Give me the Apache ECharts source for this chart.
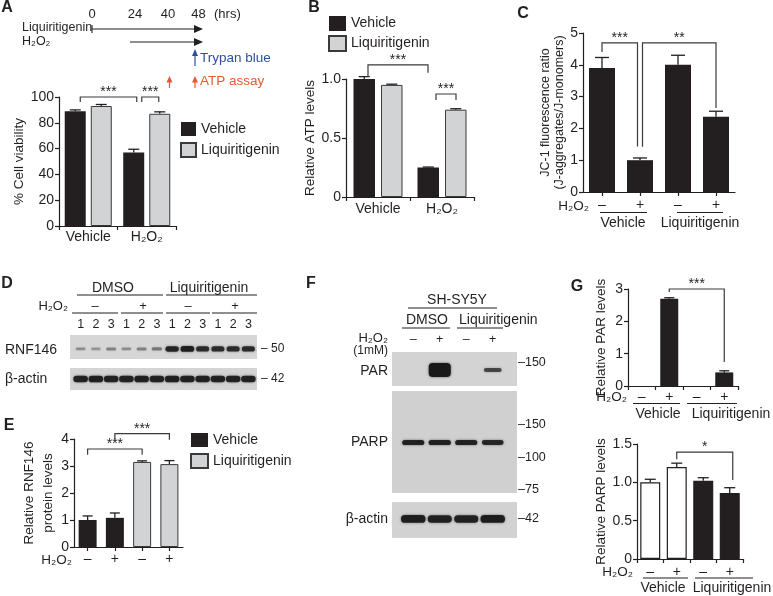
<!DOCTYPE html>
<html><head><meta charset="utf-8">
<script src="https://cdn.jsdelivr.net/npm/echarts@6/dist/echarts.min.js"></script>
<style>html,body{margin:0;padding:0;background:#fff}#c{width:773px;height:596px}</style>
</head><body><div id="c"></div><script>
// ---------------- DATA ----------------
const groupCats = ['Vehicle', 'H₂O₂'];
const aVehicle = [89, 57];       const aVehicleErr = [1.0, 2.5];
const aLiq = [93, 87];           const aLiqErr = [1.2, 1.5];
const bVehicle = [1.0, 0.25];    const bVehicleErr = [0.02, 0.004];
const bLiq = [0.95, 0.74];       const bLiqErr = [0.006, 0.008];
const h2o2Signs = ['–', '+', '–', '+'];
const cValues = [3.9, 1.0, 4.0, 2.37];  const cErr = [0.33, 0.07, 0.3, 0.17];
const eVehicle = [1.0, 1.08];    const eVehicleErr = [0.15, 0.18];
const eLiq = [3.15, 3.07];       const eLiqErr = [0.04, 0.13];
const gPar = [0, 2.7, 0, 0.42];  const gParErr = [0, 0.03, 0, 0.05];
const gParp = [1.0, 1.2, 1.02, 0.86]; const gParpErr = [0.04, 0.05, 0.04, 0.07];
const timeTicks = ['0', '24', '40', '48'];
const dLanes = ['1','2','3','1','2','3','1','2','3','1','2','3'];
const dRnf146 = [0.3, 0.25, 0.35, 0.3, 0.35, 0.4, 0.9, 0.95, 0.85, 0.85, 0.85, 0.85];
const dActin = [0.9, 0.92, 0.9, 0.9, 0.92, 0.9, 0.92, 0.9, 0.9, 0.9, 0.9, 0.9];
const fPar = [0, 1, 0, 0.3];
const fParp = [0.9, 0.92, 0.9, 0.85];
const fActin = [0.95, 0.9, 0.9, 0.95];
const dMarkers = ['– 50', '– 42'];
const fMarkers = ['–150', '–150', '–100', '–75', '–42'];

// ---------------- STYLE ----------------
const FONT = "'Liberation Sans', Arial, Helvetica, sans-serif";
const INK = '#231f20';
const GRAY = '#d1d3d4';
const BLUE = '#2e4e9c';
const ORANGE = '#e8592c';

const grids = [], xAxes = [], yAxes = [], series = [];
function addGrid(left, top, width, height) {
  grids.push({left, top, width, height, outerBoundsMode: 'none', containLabel: false});
  return grids.length - 1;
}
function vAxis(gi, min, max, interval, name, nameGap, fmt, nameExtra) {
  yAxes.push({type: 'value', gridIndex: gi, min, max, interval,
    name, nameLocation: 'middle', nameGap, nameRotate: 90,
    nameTextStyle: Object.assign({fontSize: 13.5, color: INK, fontFamily: FONT}, nameExtra || {}),
    axisLine: {show: true, lineStyle: {color: INK, width: 1.2}},
    axisTick: {show: true, length: 4, lineStyle: {color: INK, width: 1.2}},
    axisLabel: {fontSize: 14, color: INK, margin: 5, fontFamily: FONT, formatter: fmt},
    splitLine: {show: false}});
}
function cAxis(gi, data, alignWithLabel, margin) {
  xAxes.push({type: 'category', gridIndex: gi, data,
    axisLine: {show: true, lineStyle: {color: INK, width: 1.2}},
    axisTick: {show: true, length: 4, alignWithLabel, lineStyle: {color: INK, width: 1.2}},
    axisLabel: {fontSize: 14, color: INK, margin, interval: 0, fontFamily: FONT}});
}
function blotAxes(gi, n, labels, margin) {
  xAxes.push({type: 'category', gridIndex: gi, data: labels || Array.from({length: n}, (_, i) => String(i)),
    position: 'top', show: !!labels, axisLine: {show: false}, axisTick: {show: false},
    axisLabel: {fontSize: 12.5, color: INK, margin: margin || 4, interval: 0, fontFamily: FONT}});
  yAxes.push({type: 'value', gridIndex: gi, min: 0, max: 1, show: false});
}
const solid = {color: INK};
const grayStyle = {color: GRAY, borderColor: '#3a3a3a', borderWidth: 1};
function bar(gi, name, data, width, style, extra) {
  series.push(Object.assign({type: 'bar', name, xAxisIndex: gi, yAxisIndex: gi, data,
    barWidth: width, itemStyle: style, silent: true}, extra || {}));
}
function errBars(gi, vals, errs, dx, capW, off) {
  series.push({type: 'custom', xAxisIndex: gi, yAxisIndex: gi, z: 5, silent: true,
    data: vals.map((v, i) => [i + (off || 0), v, errs[i]]), encode: {x: 0, y: 1},
    renderItem(params, api) {
      const i = api.value(0), v = api.value(1), e = api.value(2);
      if (!(e > 0)) return;
      const p0 = api.coord([i, v]), p1 = api.coord([i, v + e]);
      const x = p0[0] + dx;
      const st = {stroke: INK, lineWidth: 1.3};
      return {type: 'group', children: [
        {type: 'line', shape: {x1: x, y1: p0[1], x2: x, y2: p1[1]}, style: st},
        {type: 'line', shape: {x1: x - capW / 2, y1: p1[1], x2: x + capW / 2, y2: p1[1]}, style: st}]};
    }});
}
function bands(gi, vals, o) {
  series.push({type: 'custom', xAxisIndex: gi, yAxisIndex: gi, z: 3, silent: true,
    data: vals.map((v, i) => [i, v]), encode: {x: 0, y: 1},
    renderItem(params, api) {
      const i = api.value(0), v = api.value(1);
      if (!(v > 0)) return;
      const cs = params.coordSys;
      const x = api.coord([i, 0])[0];
      const y = cs.y + cs.height * o.pos;
      const w = o.wMin + (o.wMax - o.wMin) * v, h = o.hMin + (o.hMax - o.hMin) * v;
      const a = o.aMin + (o.aMax - o.aMin) * v;
      return {type: 'rect', shape: {x: x - w / 2, y: y - h / 2, width: w, height: h, r: Math.min(h / 2, 4)},
        style: {fill: 'rgba(22,22,22,' + a.toFixed(2) + ')', shadowBlur: 2.5, shadowColor: 'rgba(22,22,22,' + (a * 0.7).toFixed(2) + ')'}};
    }});
}
const f1 = v => v === 0 ? '0' : v.toFixed(1);

// ---- A ----
const gA = addGrid(59, 97, 117, 129);
cAxis(gA, groupCats, false, 4);
vAxis(gA, 0, 100, 20, '% Cell viability', 28, null);
bar(gA, 'Vehicle', aVehicle, 21, solid, {barGap: '24%'});
bar(gA, 'Liquiritigenin', aLiq, 21, grayStyle, {barGap: '24%'});
errBars(gA, aVehicle, aVehicleErr, -13, 11);
errBars(gA, aLiq, aLiqErr, 13, 11);
// ---- B ----
const gB = addGrid(346, 79, 128, 118);
cAxis(gB, groupCats, false, 5);
vAxis(gB, 0, 1.0, 0.5, 'Relative ATP levels', 21, f1);
bar(gB, 'Vehicle', bVehicle, 21.5, solid, {barGap: '28%'});
bar(gB, 'Liquiritigenin', bLiq, 21.5, grayStyle, {barGap: '28%'});
errBars(gB, bVehicle, bVehicleErr, -13.75, 11);
errBars(gB, bLiq, bLiqErr, 13.75, 11);
// ---- C ----
const gC = addGrid(583, 33, 152, 159);
cAxis(gC, h2o2Signs, true, 6);
vAxis(gC, 0, 5, 1, 'JC-1 fluorescence ratio\n(J-aggregates/J-monomers)', 17, null, {fontSize: 12.5, lineHeight: 13.5});
bar(gC, 'JC-1', cValues, 26, solid);
errBars(gC, cValues, cErr, 0, 14);
// ---- E ----
const gE = addGrid(74, 439, 109, 108);
cAxis(gE, h2o2Signs, true, 5);
vAxis(gE, 0, 4, 1, 'Relative RNF146\nprotein levels', 9, null, {lineHeight: 18.5});
bar(gE, 'Vehicle', eVehicle.concat(['-', '-']), 18, solid, {barGap: '-100%'});
bar(gE, 'Liquiritigenin', ['-', '-'].concat(eLiq), 18, grayStyle, {barGap: '-100%'});
errBars(gE, eVehicle, eVehicleErr, 0, 10, 0);
errBars(gE, eLiq, eLiqErr, 0, 10, 2);
// ---- G top ----
const gG1 = addGrid(628, 289, 110, 97);
cAxis(gG1, h2o2Signs, false, 4);
vAxis(gG1, 0, 3, 1, 'Relative PAR levels', 20, null);
bar(gG1, 'PAR', gPar, 18, solid);
errBars(gG1, gPar, gParErr, 0, 10);
// ---- G bottom ----
const gG2 = addGrid(637, 444, 106, 115);
cAxis(gG2, h2o2Signs, false, 6);
vAxis(gG2, 0, 1.5, 0.5, 'Relative PARP levels', 27, f1);
bar(gG2, 'PARP', gParp, 20, {color: p => p.dataIndex < 2 ? '#ffffff' : INK, borderColor: INK, borderWidth: 1.2});
errBars(gG2, gParp, gParpErr, 0, 11);
// ---- D blots ----
const gD1 = addGrid(73, 335, 183, 24);
blotAxes(gD1, 12, dLanes, 4);
bands(gD1, dRnf146, {pos: 0.58, wMin: 8, wMax: 14, hMin: 1.5, hMax: 6, aMin: 0.1, aMax: 0.95});
const gD2 = addGrid(73, 368, 183, 22);
blotAxes(gD2, 12);
bands(gD2, dActin, {pos: 0.5, wMin: 10, wMax: 15, hMin: 3, hMax: 7, aMin: 0.3, aMax: 0.95});
// ---- F blots ----
const gF1 = addGrid(400, 352, 106, 34);
blotAxes(gF1, 4, h2o2Signs, 6);
bands(gF1, fPar, {pos: 0.53, wMin: 16, wMax: 22, hMin: 0, hMax: 14, aMin: 0.55, aMax: 0.97});
const gF2 = addGrid(400, 391, 106, 102);
blotAxes(gF2, 4);
bands(gF2, fParp, {pos: 0.505, wMin: 14, wMax: 23, hMin: 2, hMax: 5.5, aMin: 0.3, aMax: 0.95});
const gF3 = addGrid(400, 502, 106, 36);
blotAxes(gF3, 4);
bands(gF3, fActin, {pos: 0.47, wMin: 16, wMax: 25, hMin: 3, hMax: 8, aMin: 0.3, aMax: 0.95});

const legendBase = {data: ['Vehicle', 'Liquiritigenin'], orient: 'vertical', icon: 'rect', selectedMode: false,
  textStyle: {fontSize: 14, color: INK, fontFamily: FONT}, padding: 0, itemGap: 6};
const option = {
  animation: false,
  textStyle: {fontFamily: FONT},
  grid: grids, xAxis: xAxes, yAxis: yAxes, series,
  legend: [
    Object.assign({}, legendBase, {left: 180, top: 122, itemWidth: 15, itemHeight: 14}),
    Object.assign({}, legendBase, {left: 328, top: 16, itemWidth: 17, itemHeight: 15, itemGap: 4}),
    Object.assign({}, legendBase, {left: 190, top: 433, itemWidth: 17, itemHeight: 14})
  ]
};
const chart = echarts.init(document.getElementById('c'), null, {renderer: 'canvas'});
chart.setOption(option);

// ---------------- ANNOTATIONS ----------------
const GR = [];
function txt(x, y, s, o) {
  o = o || {};
  const fs = o.size || 14;
  GR.push({type: 'text', x, y, z: 50, silent: true, style: {text: s, fill: o.color || INK,
    font: (o.bold ? 'bold ' : '') + fs + 'px ' + FONT,
    align: o.align || 'left', textAlign: o.align || 'left', verticalAlign: 'middle', textVerticalAlign: 'middle'}});
}
function ln(x1, y1, x2, y2, c, w) {
  GR.push({type: 'line', z: 50, silent: true, shape: {x1, y1, x2, y2}, style: {stroke: c || INK, lineWidth: w || 1.2}});
}
function poly(points, c) {
  GR.push({type: 'polygon', z: 50, silent: true, shape: {points}, style: {fill: c || INK}});
}
function box(x, y, w, h, c) {
  GR.push({type: 'rect', z: 1, silent: true, shape: {x, y, width: w, height: h}, style: {fill: c}});
}
// panel letters
[['A', 7, 8], ['B', 314, 8], ['C', 523, 14], ['D', 7, 284], ['E', 9, 426], ['F', 311, 284], ['G', 577, 287]]
  .forEach(l => txt(l[1], l[2], l[0], {bold: true, size: 16, align: 'center'}));

// timeline (panel A)
const tX = [92, 135, 168, 198.5];
timeTicks.forEach((t, i) => txt(tX[i], 14, t, {size: 13, align: 'center'}));
txt(214, 14, '(hrs)', {size: 13});
txt(22, 28, 'Liquiritigenin', {size: 12.5});
txt(22, 42, 'H₂O₂', {size: 12.5});
ln(92, 29, 196, 29, INK, 1.1); ln(92, 25, 92, 33, INK, 1.1); poly([[203, 29], [194, 25], [194, 33]]);
ln(130, 42, 196, 42, INK, 1.1); poly([[203, 42], [194, 38], [194, 46]]);
ln(195, 66, 195, 55, BLUE, 1.2); poly([[195, 49], [192, 56], [198, 56]], BLUE);
txt(200, 58, 'Trypan blue', {size: 13.5, color: BLUE});
[169.5, 195].forEach(x => { ln(x, 88, x, 81, ORANGE, 1.2); poly([[x, 76], [x - 3, 82.5], [x + 3, 82.5]], ORANGE); });
txt(200, 81.5, 'ATP assay', {size: 13.5, color: ORANGE});

// C labels
txt(589, 206, 'H₂O₂', {size: 13.5, align: 'right'});
ln(600, 212.5, 647, 212.5); ln(677, 212.5, 723, 212.5);
txt(623, 223, 'Vehicle', {size: 14, align: 'center'});
txt(700, 223, 'Liquiritigenin', {size: 14, align: 'center'});
// E labels
txt(72, 560, 'H₂O₂', {size: 13.5, align: 'right'});
// G labels
txt(627, 397, 'H₂O₂', {size: 13.5, align: 'right'});
ln(633, 403.5, 680, 403.5); ln(687, 403.5, 737, 403.5);
txt(658, 414, 'Vehicle', {size: 14, align: 'center'});
txt(731, 414, 'Liquiritigenin', {size: 14, align: 'center'});
txt(633, 572, 'H₂O₂', {size: 13.5, align: 'right'});
ln(643, 578, 688, 578); ln(695, 578, 753, 578);
txt(663, 588, 'Vehicle', {size: 14, align: 'center'});
txt(732, 588, 'Liquiritigenin', {size: 14, align: 'center'});

// D blot annotations
box(70, 335, 187, 24, '#d6d6d6');
box(70, 368, 187, 22, '#d4d4d4');
txt(113, 288, 'DMSO', {size: 14, align: 'center'});
txt(209, 288, 'Liquiritigenin', {size: 14, align: 'center'});
ln(77, 295, 163, 295); ln(166, 295, 257, 295);
txt(68, 306, 'H₂O₂', {size: 13, align: 'right'});
[[95, '–'], [143, '+'], [188, '–'], [235, '+']].forEach(s => txt(s[0], 306, s[1], {size: 13, align: 'center'}));
ln(72, 313, 118, 313); ln(121, 313, 163, 313); ln(166, 313, 210, 313); ln(212, 313, 257, 313);
txt(5, 350, 'RNF146', {size: 14});
txt(5, 379, 'β-actin', {size: 14});
txt(261, 349, dMarkers[0], {size: 12});
txt(261, 379, dMarkers[1], {size: 12});

// F blot annotations
box(392, 352, 125, 34, '#d3d3d3');
box(392, 391, 125, 102, '#d0d0d0');
box(392, 502, 125, 36, '#d2d2d2');
txt(457, 300, 'SH-SY5Y', {size: 14, align: 'center'});
ln(408, 308, 497, 308);
txt(427, 320, 'DMSO', {size: 14, align: 'center'});
txt(459, 320, 'Liquiritigenin', {size: 14});
ln(402, 328, 450, 328); ln(457, 328, 503, 328);
txt(388, 338, 'H₂O₂', {size: 13, align: 'right'});
txt(388, 351, '(1mM)', {size: 12, align: 'right'});
txt(388, 371, 'PAR', {size: 14, align: 'right'});
txt(388, 442, 'PARP', {size: 14, align: 'right'});
txt(388, 519, 'β-actin', {size: 14, align: 'right'});
[363, 425, 458, 490, 519].forEach((y, i) => txt(518, y, fMarkers[i], {size: 12.5}));

// significance brackets: [grid, leftCat, leftPx, rightCat, rightPx, topVal, leftEndVal, rightEndVal, label]
const brackets = [
  [gA, 0, -8, 1, -10, 100, 96.1, 96.1, '***'],
  [gA, 1, -5, 1, 12, 100, 96.1, 96.1, '***'],
  [gB, 0, -10, 1, -14, 1.119, 1.017, 1.053, '***'],
  [gB, 1, -6, 1, 14, 0.873, 0.822, 0.822, '***'],
  [gC, 0, 0, 1, -2.5, 4.687, 4.405, 1.43, '***'],
  [gC, 1, 2.5, 3, 0, 4.687, 1.42, 2.64, '**'],
  [gE, 0, 0, 2, 0, 3.63, 3.42, 3.42, '***'],
  [gE, 1, 0, 3, 0, 4.196, 3.97, 3.97, '***'],
  [gG1, 1, 0, 3, 0, 3.0, 2.91, 0.74, '***'],
  [gG2, 1, 0, 3, 3, 1.395, 1.30, 1.03, '*']
];
brackets.forEach(b => {
  const f = {xAxisIndex: b[0], yAxisIndex: b[0]};
  const pl = chart.convertToPixel(f, [b[1], b[5]]);
  const pr = chart.convertToPixel(f, [b[3], b[5]]);
  const yl = chart.convertToPixel(f, [b[1], b[6]])[1];
  const yr = chart.convertToPixel(f, [b[3], b[7]])[1];
  const xl = pl[0] + b[2], xr = pr[0] + b[4], yt = pl[1];
  GR.push({type: 'polyline', z: 50, silent: true, shape: {points: [[xl, yl], [xl, yt], [xr, yt], [xr, yr]]},
    style: {stroke: '#3a3a3a', lineWidth: 1.2, fill: null}});
  txt((xl + xr) / 2, yt - 5, b[8], {size: 14, align: 'center'});
});
chart.setOption({graphic: {elements: GR}});
</script></body></html>
